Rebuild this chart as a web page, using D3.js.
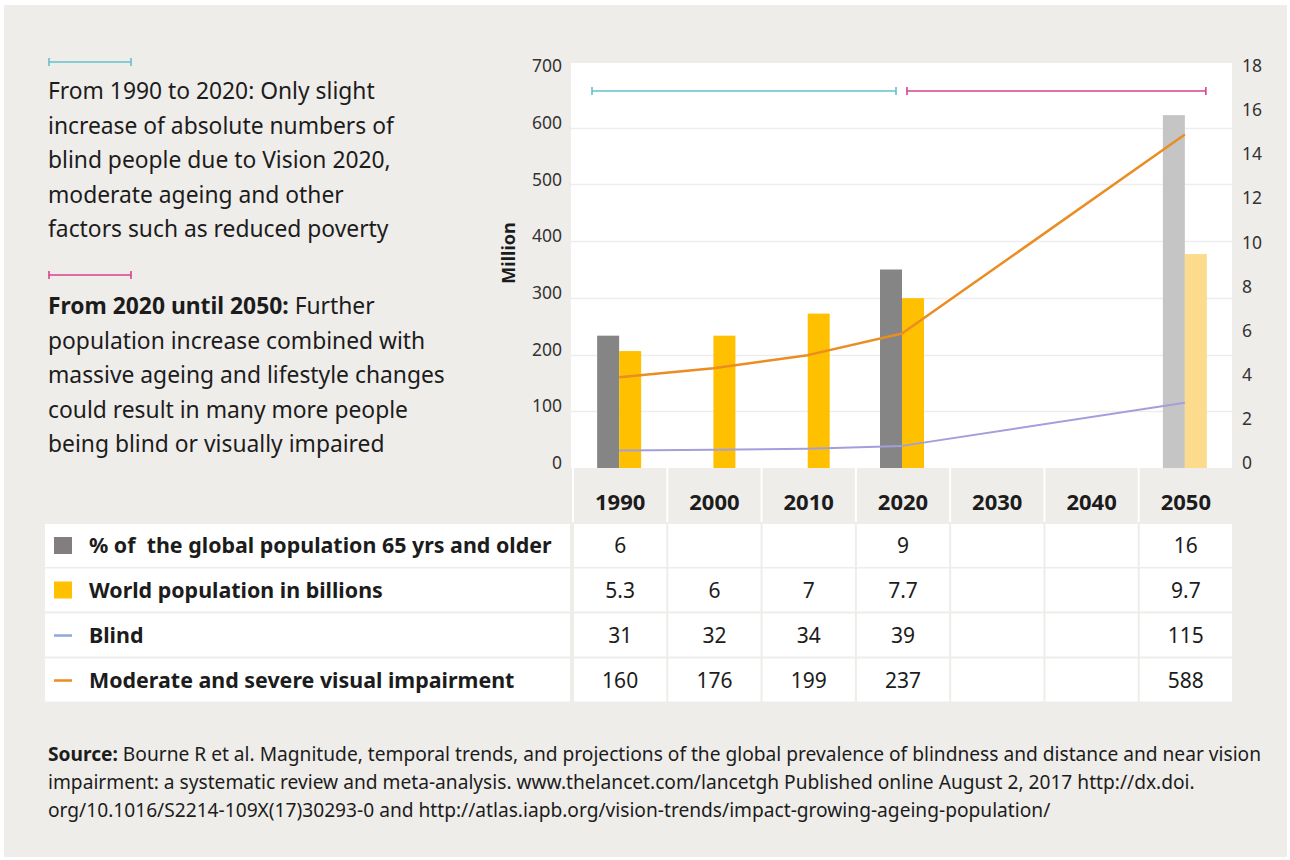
<!DOCTYPE html>
<html>
<head>
<meta charset="utf-8">
<script src="https://cdn.jsdelivr.net/npm/d3@7"></script>
<style>
  html, body { margin: 0; padding: 0; background: #ffffff; }
  svg { display: block; font-family: "Noto Sans", "Open Sans", sans-serif; }
</style>
</head>
<body>
<svg id="chart" width="1290" height="860"></svg>
<script>
// ---------------- DATA ----------------
const years = ["1990", "2000", "2010", "2020", "2030", "2040", "2050"];
const pctOlder = [6, null, null, 9, null, null, 16];          // % of global population 65+ (right axis)
const worldPop = [5.3, 6, 7, 7.7, null, null, 9.7];            // billions (right axis)
const blind = [31, 32, 34, 39, null, null, 115];               // million (left axis)
const msvi = [160, 176, 199, 237, null, null, 588];            // million (left axis)
const leftTicks = [0, 100, 200, 300, 400, 500, 600, 700];
const rightTicks = [0, 2, 4, 6, 8, 10, 12, 14, 16, 18];
const rowLabels = [
  "% of\u00A0 the global population 65 yrs and older",
  "World population in billions",
  "Blind",
  "Moderate and severe visual impairment"
];
const rowValues = [pctOlder, worldPop, blind, msvi];
const introLines1 = [
  "From 1990 to 2020: Only slight",
  "increase of absolute numbers of",
  "blind people due to Vision 2020,",
  "moderate ageing and other",
  "factors such as reduced poverty"
];
const introBold2 = "From 2020 until 2050:";
const introLines2 = [
  " Further",
  "population increase combined with",
  "massive ageing and lifestyle changes",
  "could result in many more people",
  "being blind or visually impaired"
];
const sourceLines = [
  ["Source:", " Bourne R et al. Magnitude, temporal trends, and projections of the global prevalence of blindness and distance and near vision"],
  ["", "impairment: a systematic review and meta-analysis. www.thelancet.com/lancetgh Published online August 2, 2017 http://dx.doi."],
  ["", "org/10.1016/S2214-109X(17)30293-0 and http://atlas.iapb.org/vision-trends/impact-growing-ageing-population/"]
];

// ---------------- STYLE ----------------
const PANEL = "#efedea";
const TEXT = "#1c1c1c";
const C_GREY = "#858585", C_GREY_P = "#c5c5c5";
const C_YEL = "#ffc000", C_YEL_P = "#fddb8c";
const C_BLIND = "#a39fdc", C_BLIND_LEG = "#8ea9dd";
const C_MSVI = "#ea8d22";
const C_CYAN = "#64bfcc", C_MAG = "#d9428c";

const svg = d3.select("#chart");
svg.append("rect").attr("x", 4).attr("y", 5).attr("width", 1283).attr("height", 852).attr("fill", PANEL);

// scales
const x = d3.scaleBand().domain(years).range([572, 1232]).paddingInner(0).paddingOuter(0);
const bw = x.bandwidth();
const cx = y => x(y) + bw / 2;
const yL = d3.scaleLinear().domain([0, 700]).range([468, 71]);
const yR = d3.scaleLinear().domain([0, 18]).range([468, 71]);

// fit helper: font size so a text element reaches target width
function fitWidth(sel, target) {
  const node = sel.node();
  const fs = parseFloat(sel.attr("font-size"));
  const w = node.getComputedTextLength();
  return fs * target / w;
}

// ---------------- PLOT AREA ----------------
svg.append("rect").attr("x", 571).attr("y", 63).attr("width", 661).attr("height", 405).attr("fill", "#ffffff");
svg.append("g").selectAll("line").data(leftTicks.filter(t => t > 0 && t < 700)).join("line")
  .attr("x1", 571).attr("x2", 1232)
  .attr("y1", d => Math.round(yL(d)) + 0.5).attr("y2", d => Math.round(yL(d)) + 0.5)
  .attr("stroke", "#ededed").attr("stroke-width", 1.5);

// axes (d3 axes, domain/ticks hidden)
const axL = svg.append("g").attr("transform", "translate(566,-5)")
  .call(d3.axisLeft(yL).tickValues(leftTicks).tickSize(0).tickPadding(4));
axL.select(".domain").remove();
axL.selectAll("text").attr("font-size", 17.5).attr("fill", "#333").attr("font-family", "Noto Sans, sans-serif");

const axR = svg.append("g").attr("transform", "translate(1238,-5)")
  .call(d3.axisRight(yR).tickValues(rightTicks).tickSize(0).tickPadding(4));
axR.select(".domain").remove();
axR.selectAll("text").attr("font-size", 17.5).attr("fill", "#333").attr("font-family", "Noto Sans, sans-serif");

svg.append("text").attr("transform", "translate(515,253) rotate(-90)")
  .attr("text-anchor", "middle").attr("font-size", 18).attr("font-weight", 700).attr("fill", TEXT)
  .text("Million");

// bars
const barW = 22;
const barData = years.map((y, i) => ({ y, old: pctOlder[i], pop: worldPop[i], proj: y === "2050" }));
svg.append("g").selectAll("rect").data(barData.filter(d => d.old != null)).join("rect")
  .attr("x", d => cx(d.y) - barW).attr("width", barW)
  .attr("y", d => yR(d.old)).attr("height", d => yR(0) - yR(d.old))
  .attr("fill", d => d.proj ? C_GREY_P : C_GREY);
svg.append("g").selectAll("rect").data(barData.filter(d => d.pop != null)).join("rect")
  .attr("x", d => cx(d.y)).attr("width", barW)
  .attr("y", d => yR(d.pop)).attr("height", d => yR(0) - yR(d.pop))
  .attr("fill", d => d.proj ? C_YEL_P : C_YEL);

// lines
const lineGen = d3.line().x(d => cx(d.y)).y(d => yL(d.v)).curve(d3.curveLinear);
const ptsBlind = years.map((y, i) => ({ y, v: blind[i] })).filter(d => d.v != null);
const ptsMsvi = years.map((y, i) => ({ y, v: msvi[i] })).filter(d => d.v != null);
svg.append("path").datum(ptsBlind).attr("d", lineGen).attr("fill", "none")
  .attr("stroke", C_BLIND).attr("stroke-width", 2).attr("stroke-linejoin", "round");
svg.append("path").datum(ptsMsvi).attr("d", lineGen).attr("fill", "none")
  .attr("stroke", C_MSVI).attr("stroke-width", 2.5).attr("stroke-linejoin", "round");

// period spans
function span(g, x1, x2, yy, col) {
  g.append("line").attr("x1", x1).attr("x2", x2).attr("y1", yy).attr("y2", yy).attr("stroke", col).attr("stroke-width", 1.6);
  g.append("line").attr("x1", x1).attr("x2", x1).attr("y1", yy - 4).attr("y2", yy + 4).attr("stroke", col).attr("stroke-width", 1.6);
  g.append("line").attr("x1", x2).attr("x2", x2).attr("y1", yy - 4).attr("y2", yy + 4).attr("stroke", col).attr("stroke-width", 1.6);
}
const spanG = svg.append("g");
span(spanG, x("1990") + 20, cx("2020") - 6, 91, C_CYAN);
span(spanG, cx("2020") + 5, cx("2050") + 21, 91, C_MAG);
span(spanG, 49, 131, 62, C_CYAN);
span(spanG, 49, 131, 275, C_MAG);

// ---------------- INTRO TEXT ----------------
const intro1 = svg.append("g");
const t1 = intro1.selectAll("text").data(introLines1).join("text")
  .attr("x", 48).attr("y", (d, i) => 99 + i * 34.6)
  .attr("font-size", 22).attr("fill", TEXT).text(d => d);
const fs1 = fitWidth(d3.select(t1.nodes()[1]), 346);
t1.attr("font-size", fs1);

const intro2 = svg.append("g");
const t2 = intro2.selectAll("text").data(introLines2).join("text")
  .attr("x", 48).attr("y", (d, i) => 314 + i * 34.6)
  .attr("font-size", 22).attr("fill", TEXT);
t2.each(function (d, i) {
  const s = d3.select(this);
  if (i === 0) {
    s.append("tspan").attr("font-weight", 700).text(introBold2);
    s.append("tspan").text(d);
  } else s.text(d);
});
const fs2 = fitWidth(d3.select(t2.nodes()[2]), 397);
t2.attr("font-size", fs2);

// ---------------- TABLE ----------------
const tbl = svg.append("g");
// header row separators
tbl.selectAll("rect.hdr").data(years).join("rect").attr("class", "hdr")
  .attr("x", d => x(d)).attr("width", 2).attr("y", 468).attr("height", 54).attr("fill", "#ffffff");
tbl.selectAll("text.hdr").data(years).join("text").attr("class", "hdr")
  .attr("x", d => cx(d) + 1).attr("y", 510).attr("text-anchor", "middle")
  .attr("font-size", 22).attr("font-weight", 700).attr("fill", TEXT).text(d => d);

const rowTop = [524, 568.5, 613.5, 658.5];
const rowH = 43;
rowValues.forEach((vals, r) => {
  const g = tbl.append("g");
  g.append("rect").attr("x", 45).attr("y", rowTop[r]).attr("width", 525).attr("height", rowH).attr("fill", "#ffffff");
  g.selectAll("rect.cell").data(years).join("rect").attr("class", "cell")
    .attr("x", d => x(d) + 2).attr("width", bw - 2).attr("y", rowTop[r]).attr("height", rowH).attr("fill", "#ffffff");
  g.selectAll("text.val").data(years.map((y, i) => ({ y, v: vals[i] })).filter(d => d.v != null)).join("text")
    .attr("class", "val").attr("x", d => cx(d.y) + 1).attr("y", rowTop[r] + 29)
    .attr("text-anchor", "middle").attr("font-size", 21).attr("fill", TEXT).text(d => d.v);
});
// legend markers
tbl.append("rect").attr("x", 54).attr("y", rowTop[0] + 13).attr("width", 18).attr("height", 17).attr("fill", "#827e7e");
tbl.append("rect").attr("x", 54).attr("y", rowTop[1] + 13).attr("width", 18).attr("height", 17).attr("fill", C_YEL);
tbl.append("line").attr("x1", 54).attr("x2", 72).attr("y1", rowTop[2] + 22).attr("y2", rowTop[2] + 22).attr("stroke", C_BLIND_LEG).attr("stroke-width", 2.5);
tbl.append("line").attr("x1", 54).attr("x2", 72).attr("y1", rowTop[3] + 22).attr("y2", rowTop[3] + 22).attr("stroke", C_MSVI).attr("stroke-width", 2.5);
const lbl = tbl.selectAll("text.lbl").data(rowLabels).join("text").attr("class", "lbl")
  .attr("x", 89).attr("y", (d, i) => rowTop[i] + 29)
  .attr("font-size", 21).attr("font-weight", 700).attr("fill", TEXT).text(d => d);
const fsL = Math.min(fitWidth(d3.select(lbl.nodes()[3]), 449), fitWidth(d3.select(lbl.nodes()[0]), 463));
lbl.attr("font-size", fsL);

// ---------------- SOURCE ----------------
const src = svg.append("g");
const st = src.selectAll("text").data(sourceLines).join("text")
  .attr("x", 48).attr("y", (d, i) => 761 + i * 28)
  .attr("font-size", 16).attr("fill", TEXT);
st.each(function (d) {
  const s = d3.select(this);
  if (d[0]) s.append("tspan").attr("font-weight", 700).text(d[0]);
  s.append("tspan").text(d[1]);
});
const fsS = fitWidth(d3.select(st.nodes()[0]), 1214);
st.attr("font-size", fsS);
</script>
</body>
</html>
